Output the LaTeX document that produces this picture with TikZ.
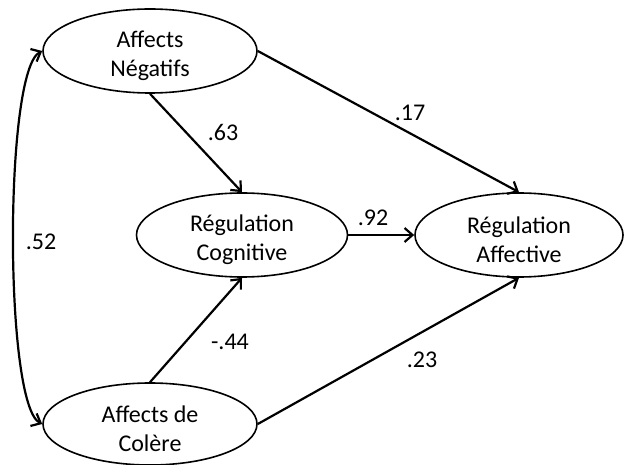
\documentclass[tikz,border=0pt]{standalone}
\usepackage{fontspec}
\setmainfont{Carlito}
\usetikzlibrary{shapes.geometric,arrows.meta}
\begin{document}
\begin{tikzpicture}[x=1pt,y=-1pt,
  lat/.style={ellipse,draw,line width=1.6pt,inner sep=0pt},
  lattext/.style={align=center,inner sep=0pt,yshift=-5pt,
    font=\fontsize{24}{29}\selectfont},
  path/.style={line width=2.2pt,-{Straight Barb[length=8,width=14]}},
  coef/.style={font=\fontsize{24}{28}\selectfont,inner sep=0pt}]
\useasboundingbox (0,0) rectangle (624,465);
\node[lat,minimum width=214,minimum height=84,
  label={[lattext]center:Affects\\Négatifs}] (an) at (150,51) {};
\node[lat,minimum width=211,minimum height=84,
  label={[lattext]center:Régulation\\Cognitive}] (rc) at (242,235) {};
\node[lat,minimum width=208,minimum height=84,
  label={[lattext]center:Régulation\\Affective}] (ra) at (519,235) {};
\node[lat,minimum width=214,minimum height=82,
  label={[lattext]center:Affects de\\Colère}] (ac) at (150,424) {};
\draw[path] (an.south) -- (rc.north);
\draw[path] (an.east) -- (ra.north);
\draw[path] (rc.east) -- (ra.west);
\draw[path] (ac.north) -- (rc.south);
\draw[path] (ac.east) -- (ra.south);
\draw[line width=2.2pt,{Straight Barb[length=8,width=14]}-{Straight Barb[length=8,width=14]}]
  (ac.west) .. controls (4,405) and (4,70) .. (an.west);
\node[coef] (l52) at (41,242) {.52};
\node[coef] (l63) at (223,132) {.63};
\node[coef] (l17) at (410,113) {.17};
\node[coef] (l92) at (373,218) {.92};
\node[coef] (l44) at (230,342) {-.44};
\node[coef] (l23) at (422,360) {.23};
\end{tikzpicture}
\end{document}
